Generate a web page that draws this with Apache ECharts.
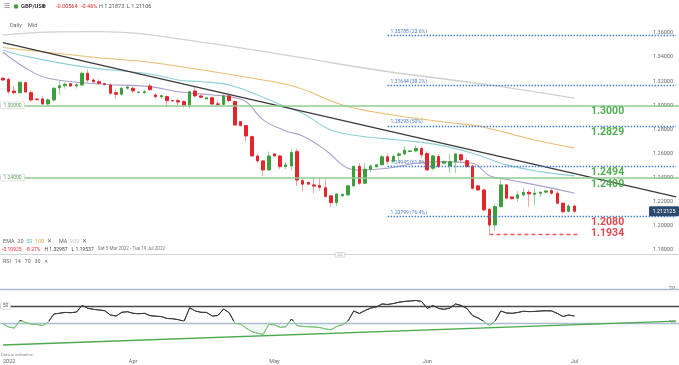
<!DOCTYPE html>
<html><head><meta charset="utf-8">
<script src="https://cdn.jsdelivr.net/npm/echarts@6/dist/echarts.min.js"></script>
<style>html,body{margin:0;padding:0;background:#fff}#c{width:679px;height:365px}</style>
</head><body><div id="c"></div>
<script>
// ---- DATA ----
const opens  = [1.3225,1.3216,1.3119,1.3105,1.3188,1.3105,1.3052,1.3053,1.3012,1.3045,1.3145,1.3163,1.3180,1.3161,1.3169,1.3266,1.3210,1.3196,1.3180,1.3169,1.3105,1.3092,1.3142,1.3142,1.3105,1.3105,1.3160,1.3086,1.3070,1.3072,1.3040,1.3039,1.3031,1.3003,1.3119,1.3078,1.3053,1.3063,1.3012,1.3008,1.3078,1.3031,1.2865,1.2832,1.2740,1.2580,1.2539,1.2464,1.2597,1.2580,1.2492,1.2497,1.2616,1.2375,1.2362,1.2340,1.2334,1.2317,1.2249,1.2193,1.2250,1.2257,1.2332,1.2494,1.2354,1.2470,1.2490,1.2507,1.2573,1.2535,1.2585,1.2597,1.2617,1.2622,1.2642,1.2600,1.2478,1.2575,1.2520,1.2497,1.2533,1.2590,1.2541,1.2497,1.2332,1.2298,1.2138,1.2008,1.2160,1.2340,1.2240,1.2230,1.2257,1.2279,1.2262,1.2270,1.2280,1.2292,1.2271,1.2188,1.2121,1.2165];
const highs  = [1.3232,1.3230,1.3160,1.3200,1.3195,1.3125,1.3060,1.3075,1.3060,1.3150,1.3210,1.3190,1.3185,1.3185,1.3280,1.3298,1.3225,1.3215,1.3185,1.3180,1.3130,1.3150,1.3170,1.3155,1.3115,1.3130,1.3180,1.3100,1.3090,1.3085,1.3045,1.3055,1.3045,1.3120,1.3150,1.3090,1.3068,1.3070,1.3040,1.3090,1.3090,1.3040,1.2870,1.2840,1.2750,1.2600,1.2545,1.2616,1.2600,1.2590,1.2530,1.2640,1.2640,1.2390,1.2365,1.2400,1.2400,1.2395,1.2255,1.2270,1.2265,1.2340,1.2500,1.2522,1.2522,1.2510,1.2512,1.2590,1.2600,1.2590,1.2610,1.2660,1.2628,1.2665,1.2660,1.2620,1.2590,1.2595,1.2540,1.2595,1.2600,1.2600,1.2560,1.2510,1.2340,1.2310,1.2145,1.2180,1.2406,1.2345,1.2245,1.2290,1.2315,1.2300,1.2320,1.2290,1.2295,1.2310,1.2290,1.2195,1.2180,1.2170];
const lows   = [1.3200,1.3090,1.3090,1.3098,1.3110,1.3030,1.3040,1.3000,1.3002,1.3030,1.3090,1.3140,1.3155,1.3140,1.3160,1.3190,1.3180,1.3170,1.3165,1.3090,1.3055,1.3080,1.3130,1.3100,1.3100,1.3095,1.3120,1.3060,1.3055,1.2990,1.3030,1.2995,1.2980,1.2975,1.3070,1.3060,1.3048,1.3005,1.2990,1.3000,1.3030,1.2830,1.2825,1.2699,1.2575,1.2520,1.2415,1.2460,1.2575,1.2470,1.2470,1.2460,1.2330,1.2284,1.2340,1.2270,1.2290,1.2235,1.2155,1.2165,1.2240,1.2250,1.2325,1.2340,1.2345,1.2440,1.2485,1.2500,1.2510,1.2525,1.2540,1.2585,1.2612,1.2610,1.2560,1.2460,1.2460,1.2480,1.2515,1.2440,1.2440,1.2530,1.2480,1.2300,1.2290,1.2120,1.1934,1.1960,1.2150,1.2220,1.2220,1.2200,1.2240,1.2160,1.2170,1.2240,1.2275,1.2260,1.2180,1.2105,1.2110,1.2105];
const closes = [1.3210,1.3113,1.3105,1.3191,1.3110,1.3044,1.3047,1.3012,1.3045,1.3142,1.3162,1.3175,1.3160,1.3170,1.3266,1.3210,1.3196,1.3183,1.3172,1.3100,1.3092,1.3142,1.3152,1.3120,1.3110,1.3113,1.3130,1.3072,1.3080,1.3039,1.3036,1.3028,1.3003,1.3113,1.3078,1.3067,1.3063,1.3011,1.3008,1.3078,1.3039,1.2837,1.2832,1.2746,1.2580,1.2539,1.2464,1.2580,1.2580,1.2492,1.2506,1.2608,1.2380,1.2346,1.2346,1.2330,1.2320,1.2243,1.2193,1.2265,1.2262,1.2332,1.2494,1.2354,1.2470,1.2497,1.2507,1.2573,1.2535,1.2577,1.2597,1.2627,1.2622,1.2642,1.2590,1.2464,1.2580,1.2492,1.2535,1.2533,1.2597,1.2547,1.2492,1.2312,1.2298,1.2133,1.2008,1.2160,1.2340,1.2230,1.2225,1.2257,1.2279,1.2265,1.2272,1.2278,1.2290,1.2271,1.2188,1.2118,1.2165,1.2121];
const rsi14  = [28.8,25.3,24,33,30.6,28.6,28.2,27,31.2,40.6,41.5,42.5,42.1,42.9,50.8,47.3,46.1,45.3,44.4,39.4,38.2,42.6,43.3,41.4,40.9,41.4,38.7,38,37.5,35.3,35,33.9,32,47.9,44.1,42.6,42.4,38.2,38.8,46.5,42,29.6,28.8,23.8,19.9,18,16.7,28.2,27.9,24.9,25.6,34.7,27,25.8,25.6,25.3,24.7,22.9,22,25.9,27.9,32.4,44.1,41.2,44.7,47.6,48.8,52.4,51.8,52.9,54.5,55.4,55.9,56.5,55.3,47.1,50.6,47.1,46.1,47.6,52.4,50.6,47.1,38.8,35.9,31.8,27,32.4,44.1,41.8,41.4,42.4,43.8,43.4,43.6,44.1,44.4,44.2,41.2,37.6,39.4,38.2];
// moving averages read at points: [candle index, price]
const ema20 = [[0,1.3442],[4,1.3310],[8,1.3224],[17,1.3177],[26,1.3155],[31,1.3113],[37,1.3086],[40,1.3072],[43,1.3030],[46,1.2879],[50,1.2788],[53,1.2746],[57,1.2630],[61,1.2478],[63,1.2464],[68,1.2478],[73,1.2520],[77,1.2533],[83,1.2520],[86,1.2415],[89,1.2387],[97,1.2313],[101,1.2271]];
const ema50 = [[0,1.3459],[3,1.3418],[14,1.3321],[26,1.3260],[31,1.3210],[35,1.3196],[40,1.3169],[45,1.3086],[50,1.2989],[53,1.2934],[58,1.2796],[64,1.2740],[70,1.2713],[77,1.2672],[83,1.2603],[89,1.2506],[95,1.2450],[101,1.2415]];
const ema100 = [[0,1.3480],[17,1.3395],[26,1.3357],[46,1.3210],[52,1.3150],[60,1.3003],[67,1.2934],[79,1.2856],[84,1.2829],[94,1.2713],[101,1.2647]];
const ma200 = [[0,1.3583],[8,1.3608],[17,1.3612],[35,1.3525],[53,1.3393],[67,1.3287],[86,1.3169],[101,1.3059]];
const priceTrend = [[0,1.3520],[119,1.2240]];
const rsiTrend = [[0,4.2],[119,32.2]];
const fibValues = [1.35788,1.31644,1.28293,1.24945,1.20799];
const fibLabels = ['1.35788 (23.6%)','1.31644 (38.2%)','1.28293 (50%)','1.24945 (61.8%)','1.20799 (76.4%)'];
const fibStart = 68;
const roundLevels = [1.30,1.24];
const roundLabels = ['1.30000','1.24000'];
const levelLabels = [['1.3000',1.3000,'up'],['1.2829',1.28293,'up'],['1.2494',1.24945,'up'],['1.2400',1.24,'up'],['1.2080',1.20799,'dn'],['1.1934',1.1934,'mid']];
const lowLevel = {value:1.1934, from:86, to:102};
const lastPrice = 1.2121;
const lastPriceText = '1.212125';

// categories: Sun-Fri trading days
const categories = [];
(function(){let d=new Date(Date.UTC(2022,2,6));while(categories.length<120){if(d.getUTCDay()!==6)categories.push(d.toISOString().slice(0,10));d.setUTCDate(d.getUTCDate()+1);}})();
const monthNames=['Jan','Feb','Mar','Apr','May','Jun','Jul','Aug','Sep','Oct','Nov','Dec'];
const monthLabel = {};
categories.forEach((c,i)=>{ if(i===0){monthLabel[i]='2022';return;} if(i<=101 && c.slice(5,7)!==categories[i-1].slice(5,7)) monthLabel[i]=monthNames[+c.slice(5,7)-1]; });

const FONT='Roboto, "Noto Sans", sans-serif';
const GREEN='#3d9e3d', RED='#e2262c';
const candleFull = opens.map((o,i)=>[o,closes[i],lows[i],highs[i]]);
const candleBody = opens.map((o,i)=>[o,closes[i],Math.min(o,closes[i]),Math.max(o,closes[i])]);
const RSI_MIN=-10, RSI_MAX=90;
const cut=(RSI_MAX-30)/(RSI_MAX-RSI_MIN);

const chart = echarts.init(document.getElementById('c'));
const lineS = (data,color,w)=>({type:'line',xAxisIndex:0,yAxisIndex:0,data:data,showSymbol:false,smooth:0.4,lineStyle:{color:color,width:w},silent:true,z:3});

const fibMarks = fibValues.map(v=>[{coord:[fibStart,v],lineStyle:{color:'#3f7fd4',width:1.4,type:[1.5,1.5]}},{coord:[119,v]}]);
chart.setOption({
  animation:false,
  grid:[{left:0,right:0,top:8.89,height:265.22},{left:0,right:0,top:272,height:85}],
  xAxis:[
    {type:'category',gridIndex:0,data:categories,boundaryGap:true,show:false},
    {type:'category',gridIndex:1,data:categories,boundaryGap:true,axisLine:{show:false},axisTick:{show:false},
     axisLabel:{fontSize:5.5,color:'#666',fontFamily:FONT,margin:2,alignMinLabel:'left',
       interval:(i)=>monthLabel[i]!==undefined, formatter:(v,i)=>monthLabel[i]||''}}
  ],
  yAxis:[
    {type:'value',gridIndex:0,position:'right',min:1.16,max:1.38,interval:0.02,axisLine:{show:false},axisTick:{show:false},splitLine:{show:false},
     axisLabel:{inside:true,margin:6,fontSize:5.5,color:'#666',fontFamily:FONT,showMinLabel:false,showMaxLabel:false,formatter:v=>v.toFixed(5)}},
    {type:'value',gridIndex:1,position:'right',min:RSI_MIN,max:RSI_MAX,interval:10,axisLine:{show:false},axisTick:{show:false},splitLine:{show:false},
     axisLabel:{inside:true,margin:4,fontSize:5.5,color:'#666',fontFamily:FONT,formatter:v=>(v===70||v===30)?String(v):''}}
  ],
  series:[
    {type:'line',xAxisIndex:0,yAxisIndex:0,data:priceTrend,showSymbol:false,lineStyle:{color:'#3a3a3a',width:1.3},z:4,silent:true,
     markLine:{silent:true,symbol:'none',label:{show:false},data:[
       ...roundLevels.map(v=>({yAxis:v,lineStyle:{color:'#8fcc8f',width:1.6,type:'solid'}})),
       ...fibMarks,
       [{coord:[lowLevel.from,lowLevel.value],lineStyle:{color:'#ec5a60',width:1.3,type:[4,3]}},{coord:[lowLevel.to,lowLevel.value]}]
     ]}},
    {type:'candlestick',xAxisIndex:0,yAxisIndex:0,data:candleFull,barWidth:1,z:2,silent:true,
     itemStyle:{color:'#9dd49d',color0:'#f3a3a3',borderColor:'#9dd49d',borderColor0:'#f3a3a3',borderWidth:1}},
    {type:'candlestick',xAxisIndex:0,yAxisIndex:0,data:candleBody,barWidth:3,z:3,silent:true,
     itemStyle:{color:GREEN,color0:RED,borderColor:GREEN,borderColor0:RED,borderWidth:1}},
    lineS(ma200,'#d0d0d0',1.3),
    lineS(ema100,'#e9bd6e',1.1),
    lineS(ema50,'#8dd0d8',1.1),
    lineS(ema20,'#ab9fcb',1.1),
    {type:'line',xAxisIndex:1,yAxisIndex:1,data:rsiTrend,showSymbol:false,lineStyle:{color:'#4caa4c',width:1.4},z:5,silent:true,
     markLine:{silent:true,symbol:'none',label:{show:false},data:[
       {yAxis:70,lineStyle:{color:'#aabdd3',width:1.4,type:'solid'}},
       {yAxis:30,lineStyle:{color:'#aabdd3',width:1.4,type:'solid'}},
       {yAxis:50,lineStyle:{color:'#4a4a4a',width:1.3,type:'solid'}}]}},
    {type:'line',xAxisIndex:1,yAxisIndex:1,data:rsi14.map(v=>Math.min(v,30)),showSymbol:false,lineStyle:{width:0,opacity:0},
     areaStyle:{origin:30,color:'rgba(120,200,120,0.13)'},z:2,silent:true},
    {type:'line',xAxisIndex:1,yAxisIndex:1,data:rsi14,showSymbol:false,z:6,silent:true,
     lineStyle:{width:1,color:{type:'linear',x:0,y:0,x2:0,y2:1,colorStops:[{offset:0,color:'#3c3c3c'},{offset:cut,color:'#3c3c3c'},{offset:cut,color:'#79c279'},{offset:1,color:'#79c279'}]}}}
  ]
});

// ---- annotations positioned from the axes ----
const py=v=>chart.convertToPixel({yAxisIndex:0},v);
const ry=v=>chart.convertToPixel({yAxisIndex:1},v);
const px=i=>chart.convertToPixel({xAxisIndex:0},i);
const T=(x,y,text,o)=>({type:'text',x:x,y:y,silent:true,z:50,style:Object.assign({text:text,font:'5.5px '+FONT,fill:'#555',verticalAlign:'middle'},o||{})});
const g=[];
g.push(T(4,6.5,'☰',{font:'7px '+FONT,fill:'#888'}));
g.push({type:'circle',shape:{cx:16,cy:6.5,r:2.2},style:{fill:'#3aa13a'},silent:true,z:50});
g.push(T(21,6.5,'GBP/USD',{font:'bold 5.8px '+FONT,fill:'#333'}));
g.push(T(42,6.5,'▾',{font:'6px '+FONT,fill:'#444'}));
g.push(T(56,6.5,'-0.00564',{fill:RED}));
g.push(T(81,6.5,'-0.46%',{fill:RED}));
g.push(T(99,6.5,'H 1.21873  L 1.21106',{fill:'#555'}));
g.push(T(10,26,'Daily',{fill:'#666'}));
g.push(T(28,26,'Mid',{fill:'#666'}));
g.push(T(3,241.5,'{a|EMA}  {a|20}  {c|50}  {o|100}  {a|✕}     {a|MA}  {g|200}  {a|✕}',{rich:{a:{fill:'#666',font:'5.5px '+FONT},c:{fill:'#5fbcc8',font:'5.5px '+FONT},o:{fill:'#e0a84a',font:'5.5px '+FONT},g:{fill:'#c8c8c8',font:'5.5px '+FONT}}}));
g.push(T(2,249.3,'{r|-0.10925}   {r|-8.27%}   {d|H 1.32987}   {d|L 1.19537}   {s|Sat 5 Mar 2022 - Tue 19 Jul 2022}',{rich:{r:{fill:RED,font:'5px '+FONT},d:{fill:'#444',font:'5px '+FONT},s:{fill:'#777',font:'4.6px '+FONT}}}));
g.push({type:'line',shape:{x1:0,y1:254.5,x2:679,y2:254.5},style:{stroke:'#d4d4d4',lineWidth:1},silent:true,z:40});
g.push({type:'rect',shape:{x:335,y:252.5,width:10,height:4.5,r:1.5},style:{fill:'#fff',stroke:'#bbb',lineWidth:0.6},silent:true,z:41});
g.push({type:'line',shape:{x1:337.5,y1:254,x2:342.5,y2:254},style:{stroke:'#aaa',lineWidth:0.5},silent:true,z:42});
g.push({type:'line',shape:{x1:337.5,y1:255.5,x2:342.5,y2:255.5},style:{stroke:'#aaa',lineWidth:0.5},silent:true,z:42});
g.push(T(3,261.8,'RSI   14   70   30   ✕',{fill:'#666',font:'5.3px '+FONT}));
g.push(T(1,355,'Data is indicative',{fill:'#888',font:'4.2px '+FONT}));
fibValues.forEach((v,i)=>g.push(T(px(fibStart)+3,py(v)-1.2,fibLabels[i],{fill:'#4e7fc0',font:'5px '+FONT,verticalAlign:'bottom'})));
roundLevels.forEach((v,i)=>{const y=py(v);
  g.push({type:'rect',shape:{x:0.5,y:y-3.3,width:24,height:6.6,r:1},style:{fill:'#fff',stroke:'#cfcfcf',lineWidth:0.6},silent:true,z:45});
  g.push(T(12.5,y,roundLabels[i],{fill:'#5aa65a',font:'5px '+FONT,align:'center'}));});
{const y=ry(50);
 g.push({type:'rect',shape:{x:0.5,y:y-3.3,width:10,height:6.6,r:1},style:{fill:'#fff',stroke:'#cfcfcf',lineWidth:0.6},silent:true,z:45});
 g.push(T(5.5,y,'50',{fill:'#666',font:'5px '+FONT,align:'center'}));}
levelLabels.forEach(l=>{const y=py(l[1]);const col=(l[2]==='dn'||l[2]==='mid')?'#e5474e':'#4fae4f';
  const yy=l[2]==='mid'?y:y+6.5;
  g.push(T(591,yy,l[0],{fill:col,font:'bold 10.5px '+FONT}));});
{const y=py(lastPrice);
 g.push({type:'rect',shape:{x:649,y:y-5,width:30,height:10,r:1},style:{fill:'#2c4a6d'},silent:true,z:45});
 g.push(T(664,y,lastPriceText,{fill:'#fff',font:'5.5px '+FONT,align:'center'}));}
chart.setOption({graphic:{elements:g}});
</script></body></html>
